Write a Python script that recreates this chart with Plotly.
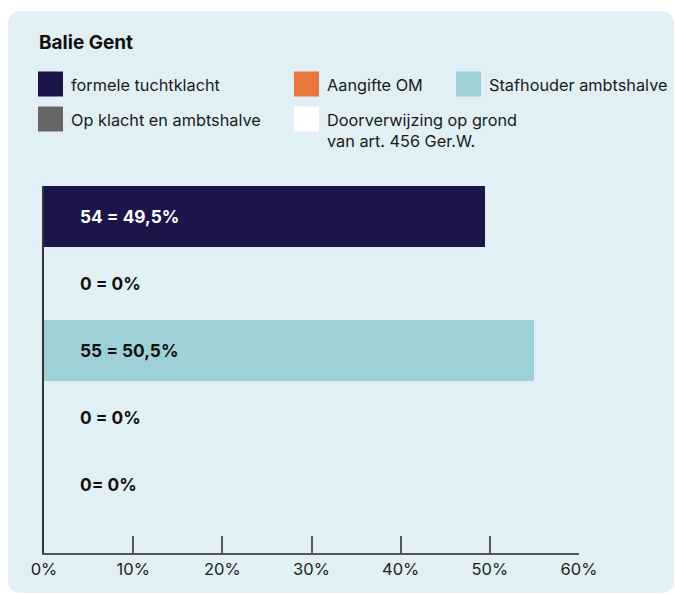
import plotly.graph_objects as go

# ---- data ----
categories = ["formele tuchtklacht", "Aangifte OM", "Stafhouder ambtshalve",
              "Op klacht en ambtshalve", "Doorverwijzing op grond<br>van art. 456 Ger.W."]
bar_values = [49.5, 0, 55, 0, 0]
bar_labels = ["54 = 49,5%", "0 = 0%", "55 = 50,5%", "0 = 0%", "0= 0%"]
colors = ["#1c1549", "#e8773c", "#9ed1d6", "#666666", "#ffffff"]
label_colors = ["#ffffff", "#111111", "#111111", "#111111", "#111111"]
tick_vals = [0, 10, 20, 30, 40, 50, 60]
tick_text = ["0%", "10%", "20%", "30%", "40%", "50%", "60%"]
title_text = "Balie Gent"

W, H = 675, 595
L, R, T, B = 44, 675 - 579, 186, 595 - 553
PW, PH = W - L - R, H - T - B
FONT = "Inter"
BG = "#e1f0f4"


def px(x):
    return (x - L) / PW


def py(y):
    return (H - B - y) / PH


ypos = list(range(len(categories)))

fig = go.Figure()
fig.add_trace(go.Bar(
    y=ypos, x=bar_values, orientation="h", width=0.91,
    marker=dict(color=colors, line=dict(width=0)),
    hoverinfo="skip", showlegend=False,
))

# bar value labels
for i, (t, c) in enumerate(zip(bar_labels, label_colors)):
    fig.add_annotation(x=0, y=i, xref="x", yref="y", text=f"<b>{t}</b>",
                       xanchor="left", yanchor="middle", xshift=34, showarrow=False,
                       font=dict(family=FONT, size=17.3, color=c))

# background panel (rounded)
x0, x1, y0, y1, r = 8, 674, 11, 593, 14
rx, ry = r / PW, r / PH
X0, X1, Y0, Y1 = px(x0), px(x1), py(y0), py(y1)
path = (f"M {X0+rx},{Y0} L {X1-rx},{Y0} Q {X1},{Y0} {X1},{Y0-ry} "
        f"L {X1},{Y1+ry} Q {X1},{Y1} {X1-rx},{Y1} L {X0+rx},{Y1} "
        f"Q {X0},{Y1} {X0},{Y1+ry} L {X0},{Y0-ry} Q {X0},{Y0} {X0+rx},{Y0} Z")
fig.add_shape(type="path", path=path, xref="paper", yref="paper",
              fillcolor=BG, line=dict(width=0), layer="below")

# title
fig.add_annotation(x=px(37), y=py(43), xref="paper", yref="paper",
                   text=f"<b>{title_text}</b>", xanchor="left", yanchor="middle",
                   showarrow=False, font=dict(family=FONT, size=19, color="#111111"))

# legend (custom grid)
legend_pos = [(38, 84), (294, 84), (456, 84), (38, 119), (294, 119)]
for name, col, (lx, ly) in zip(categories, colors, legend_pos):
    fig.add_shape(type="rect", xref="paper", yref="paper",
                  x0=px(lx), x1=px(lx + 25), y0=py(ly + 12.5), y1=py(ly - 12.5),
                  fillcolor=col, line=dict(width=0))
    fig.add_annotation(x=px(lx + 31), y=py(ly - 11), xref="paper", yref="paper",
                       text=name, xanchor="left", yanchor="top", align="left",
                       showarrow=False,
                       font=dict(family=FONT, size=16.3, color="#1a1a1a"))

fig.update_layout(
    width=W, height=H,
    margin=dict(l=L, r=R, t=T, b=B),
    paper_bgcolor="#ffffff", plot_bgcolor="rgba(0,0,0,0)",
    bargap=0, showlegend=False,
    font=dict(family=FONT),
)
fig.update_xaxes(range=[0, 60], tickvals=tick_vals, ticktext=tick_text,
                 ticks="inside", ticklen=17, tickwidth=1.5, tickcolor="#555555",
                 showline=True, linecolor="#555555", linewidth=1.5,
                 showgrid=False, zeroline=False,
                 tickfont=dict(family=FONT, size=16.5, color="#222222"))
fig.update_yaxes(range=[5.02, -0.455], showticklabels=False, ticks="",
                 showline=True, linecolor="#333333", linewidth=1.5,
                 showgrid=False, zeroline=False)

fig.write_html("out.html", config={"displayModeBar": False},
               post_script="document.body.style.margin='0';document.body.style.overflow='hidden';")
